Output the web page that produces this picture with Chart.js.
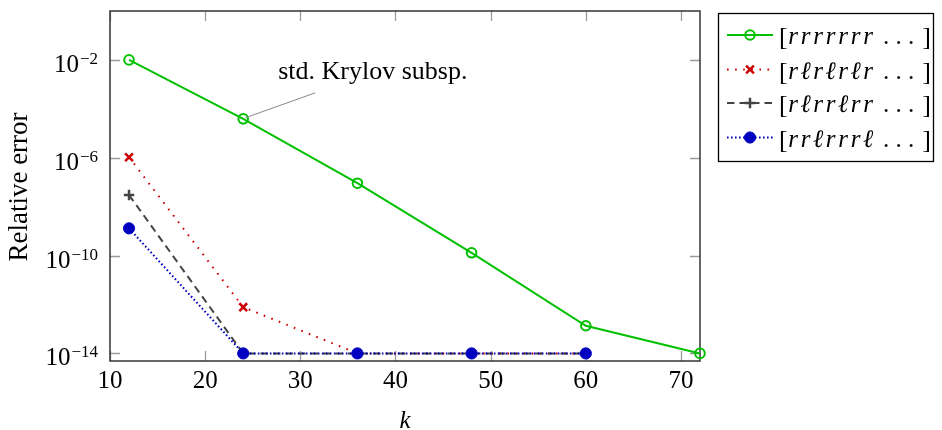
<!DOCTYPE html>
<html><head><meta charset="utf-8">
<script src="https://cdn.jsdelivr.net/npm/chart.js@4/dist/chart.umd.min.js"></script>
<style>html,body{margin:0;padding:0;background:#fff}#wrap{width:942px;height:430px;position:relative}</style>
</head><body><div id="wrap"><canvas id="c" width="942" height="430"></canvas></div>
<script>
const kValues = [12, 24, 36, 48, 60, 72];
const kShort = [12, 24, 36, 48, 60];
const seriesRRR = [1.0e-2, 3.9e-5, 9.1e-8, 1.3e-10, 1.35e-13, 1.0e-14];
const seriesRLR = [1.05e-6, 7.8e-13, 1.0e-14, 1.0e-14, 1.0e-14];
const seriesRLRR = [3.0e-8, 1.0e-14, 1.0e-14, 1.0e-14, 1.0e-14];
const seriesRRL = [1.3e-9, 1.0e-14, 1.0e-14, 1.0e-14, 1.0e-14];
const xTickValues = [10, 20, 30, 40, 50, 60, 70];
const yTickExponents = [-2, -6, -10, -14];
const legendPatterns = ["rrrrrrr", "r\u2113r\u2113r\u2113r", "r\u2113rr\u2113rr", "rr\u2113rrr\u2113"];
const xTitle = "k";
const yTitle = "Relative error";
const annotationText = "std. Krylov subsp.";

const SERIF = '"Liberation Serif", "DejaVu Serif", serif';

function pts(xs, ys) { return xs.map((x, i) => ({ x: x, y: ys[i] })); }

const datasets = [
  { label: legendPatterns[0], data: pts(kValues, seriesRRR), borderColor: '#00c000', backgroundColor: 'rgba(0,0,0,0)',
    borderWidth: 2, pointStyle: 'circle', pointRadius: 4.8, pointBorderWidth: 2, borderDash: [], order: 3 },
  { label: legendPatterns[1], data: pts(kShort, seriesRLR), borderColor: '#cc0000', backgroundColor: '#cc0000',
    borderWidth: 2, pointStyle: 'crossRot', pointRadius: 5.5, pointBorderWidth: 2.5, borderDash: [1.6, 6.5], order: 2 },
  { label: legendPatterns[2], data: pts(kShort, seriesRLRR), borderColor: '#444444', backgroundColor: '#444444',
    borderWidth: 2, pointStyle: 'cross', pointRadius: 5.2, pointBorderWidth: 2.5, borderDash: [7.5, 5], order: 1 },
  { label: legendPatterns[3], data: pts(kShort, seriesRRL), borderColor: '#0000c0', backgroundColor: '#0000c0',
    borderWidth: 2, pointStyle: 'circle', pointRadius: 5.6, pointBorderWidth: 1, borderDash: [1.6, 2.4], order: 0 }
];
datasets.forEach(d => { d.fill = false; d.tension = 0; d.clip = false; d.pointBackgroundColor = d.backgroundColor; d.pointBorderColor = d.borderColor; d.pointHoverRadius = d.pointRadius; });

const decor = {
  id: 'decor',
  beforeDatasetsDraw(chart) {
    const ctx = chart.ctx, a = chart.chartArea, xs = chart.scales.x, ys = chart.scales.y;
    ctx.save();
    ctx.strokeStyle = '#9a9a9a'; ctx.lineWidth = 1.3;
    xTickValues.forEach(v => {
      const px = Math.round(xs.getPixelForValue(v)) + 0.5;
      ctx.beginPath(); ctx.moveTo(px, a.bottom); ctx.lineTo(px, a.bottom - 10);
      ctx.moveTo(px, a.top); ctx.lineTo(px, a.top + 10); ctx.stroke();
    });
    yTickExponents.forEach(e => {
      const py = Math.round(ys.getPixelForValue(Math.pow(10, e))) + 0.5;
      ctx.beginPath(); ctx.moveTo(a.left, py); ctx.lineTo(a.left + 10, py);
      ctx.moveTo(a.right, py); ctx.lineTo(a.right - 10, py); ctx.stroke();
    });
    ctx.strokeStyle = '#333'; ctx.lineWidth = 1.5;
    ctx.strokeRect(a.left, a.top, a.right - a.left, a.bottom - a.top);
    ctx.restore();
  },
  afterDatasetsDraw(chart) {
    const ctx = chart.ctx, a = chart.chartArea, xs = chart.scales.x, ys = chart.scales.y;
    ctx.save();
    ctx.fillStyle = '#000';
    // x tick labels
    ctx.font = '25px ' + SERIF; ctx.textAlign = 'center'; ctx.textBaseline = 'alphabetic';
    xTickValues.forEach(v => ctx.fillText(String(v), xs.getPixelForValue(v), a.bottom + 27));
    // y tick labels
    yTickExponents.forEach(e => {
      const py = ys.getPixelForValue(Math.pow(10, e));
      const sup = '\u2212' + Math.abs(e);
      ctx.font = '17px ' + SERIF; ctx.textAlign = 'right';
      const w = ctx.measureText(sup).width;
      ctx.fillText(sup, a.left - 12, py + 4);
      ctx.font = '25px ' + SERIF;
      ctx.fillText('10', a.left - 12 - w - 1, py + 12);
    });
    // axis titles
    ctx.font = 'italic 25px ' + SERIF; ctx.textAlign = 'center';
    ctx.fillText(xTitle, (a.left + a.right) / 2, a.bottom + 67);
    ctx.save();
    ctx.translate(27, (a.top + a.bottom) / 2 + 1); ctx.rotate(-Math.PI / 2);
    ctx.font = '27px ' + SERIF; ctx.fillText(yTitle, 0, 0);
    ctx.restore();
    // annotation pin
    const ax = xs.getPixelForValue(kValues[1]), ay = ys.getPixelForValue(seriesRRR[1]);
    ctx.strokeStyle = '#888'; ctx.lineWidth = 1;
    ctx.beginPath(); ctx.moveTo(ax + 2, ay - 1); ctx.lineTo(ax + 72, ay - 26); ctx.stroke();
    ctx.font = '26px ' + SERIF; ctx.textAlign = 'left';
    ctx.fillText(annotationText, ax + 35, ay - 40);
    // legend
    const L = { x: 718, y: 13, w: 215, h: 148 };
    ctx.strokeStyle = '#000'; ctx.lineWidth = 1.3;
    ctx.strokeRect(L.x + 0.5, L.y + 0.5, L.w, L.h);
    const rows = [35, 69.5, 103, 137.5];
    chart.data.datasets.forEach((d, i) => {
      const ry = rows[i];
      ctx.save();
      ctx.strokeStyle = d.borderColor; ctx.lineWidth = d.borderWidth; ctx.setLineDash(d.borderDash);
      ctx.beginPath(); ctx.moveTo(727, ry); ctx.lineTo(773, ry); ctx.stroke();
      ctx.setLineDash([]);
      ctx.strokeStyle = d.borderColor; ctx.fillStyle = d.backgroundColor; ctx.lineWidth = d.pointBorderWidth;
      Chart.helpers.drawPoint(ctx, { pointStyle: d.pointStyle, radius: d.pointRadius, rotation: 0, borderWidth: d.pointBorderWidth }, 750, ry);
      ctx.restore();
      ctx.fillStyle = '#000';
      ctx.font = '26px ' + SERIF; ctx.textAlign = 'left';
      ctx.fillText('[', 779, ry + 10);
      ctx.font = 'italic 25px ' + SERIF; ctx.textAlign = 'center';
      Array.from(d.label).forEach((ch, j) => ctx.fillText(ch, 793 + j * 12.5, ry + 9));
      ctx.font = '25px ' + SERIF;
      [886, 898.5, 911].forEach(dx => ctx.fillText('.', dx, ry + 9));
      ctx.font = '26px ' + SERIF; ctx.textAlign = 'right';
      ctx.fillText(']', 931, ry + 10);
    });
    ctx.restore();
  }
};

new Chart(document.getElementById('c'), {
  type: 'line',
  data: { datasets: datasets },
  options: {
    responsive: false, animation: false, devicePixelRatio: 1,
    layout: { padding: { left: 110, top: 11, right: 242, bottom: 69 } },
    plugins: { legend: { display: false }, tooltip: { enabled: false } },
    events: [],
    scales: {
      x: { type: 'linear', min: 10, max: 72, display: false },
      y: { type: 'logarithmic', min: Math.pow(10, -14.31), max: 1, display: false }
    }
  },
  plugins: [decor]
});
</script></body></html>
